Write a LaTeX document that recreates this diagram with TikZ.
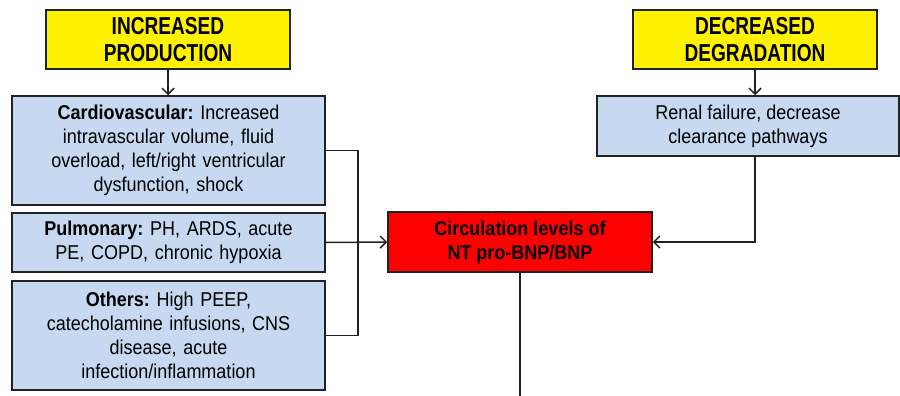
\documentclass[tikz,border=0pt]{standalone}
\usepackage{fontspec}
\setmainfont{Liberation Sans}[FakeStretch=0.9]
\newfontfamily\headfont{Liberation Sans}[FakeStretch=0.78]
\usetikzlibrary{arrows.meta}
\definecolor{boxblue}{HTML}{C6D9F1}
\definecolor{edge}{HTML}{222222}
\tikzset{
  box/.style={draw=edge, line width=1.5pt, rectangle, inner sep=2pt, align=center, font=\fontsize{20}{24}\selectfont},
  head/.style={box, fill=yellow, minimum width=244pt, minimum height=59pt, font=\headfont\fontsize{24.5}{27}\selectfont\bfseries},
  cause/.style={box, fill=boxblue},
  conn/.style={draw=edge, line width=1.5pt},
  arr/.style={conn, -{Straight Barb[length=6pt,width=12pt,line width=1.5pt]}},
}
\frenchspacing
\begin{document}
\frenchspacing
\begin{tikzpicture}[x=1pt,y=-1pt]
\useasboundingbox (0,0) rectangle (900,396);
\node[head] (inc) at (168,39.5) {INCREASED\\PRODUCTION};
\node[cause, minimum width=313pt, minimum height=109pt, text width=305pt] (cardio) at (168.5,150.5)
  {\textbf{Cardiovascular:} Increased\\ intravascular volume, fluid\\ overload, left/right ventricular\\ dysfunction, shock};
\node[cause, minimum width=313pt, minimum height=59pt, text width=305pt] (pulm) at (168.5,242.5)
  {\textbf{Pulmonary:} PH, ARDS, acute\\ PE, COPD, chronic hypoxia};
\node[cause, minimum width=313pt, minimum height=109pt, text width=305pt] (oth) at (168.5,335.5)
  {\textbf{Others:} High PEEP,\\ catecholamine infusions, CNS\\ disease, acute\\ infection/inflammation};
\node[box, fill=red, minimum width=264pt, minimum height=60pt, font=\fontsize{20}{24}\selectfont\bfseries] (circ) at (520,242)
  {Circulation levels of\\ NT pro-BNP/BNP};
\node[head] (dec) at (755,39.5) {DECREASED\\DEGRADATION};
\node[cause, minimum width=302pt, minimum height=60pt] (renal) at (748,126)
  {Renal failure, decrease\\ clearance pathways};
\coordinate (bus) at (358,0);
\coordinate (bottom) at (520,396);
\draw[arr] (inc.south) -- (cardio.north -| inc.south);
\draw[conn] (cardio.east) -- (cardio.east -| bus) -- (oth.east -| bus) -- (oth.east);
\draw[arr] (pulm.east) -- (circ.west);
\draw[arr] (dec.south) -- (dec.south |- renal.north);
\draw[arr] (dec.south |- renal.south) |- (circ.east);
\draw[conn] (circ.south) -- (bottom);
\end{tikzpicture}
\end{document}
